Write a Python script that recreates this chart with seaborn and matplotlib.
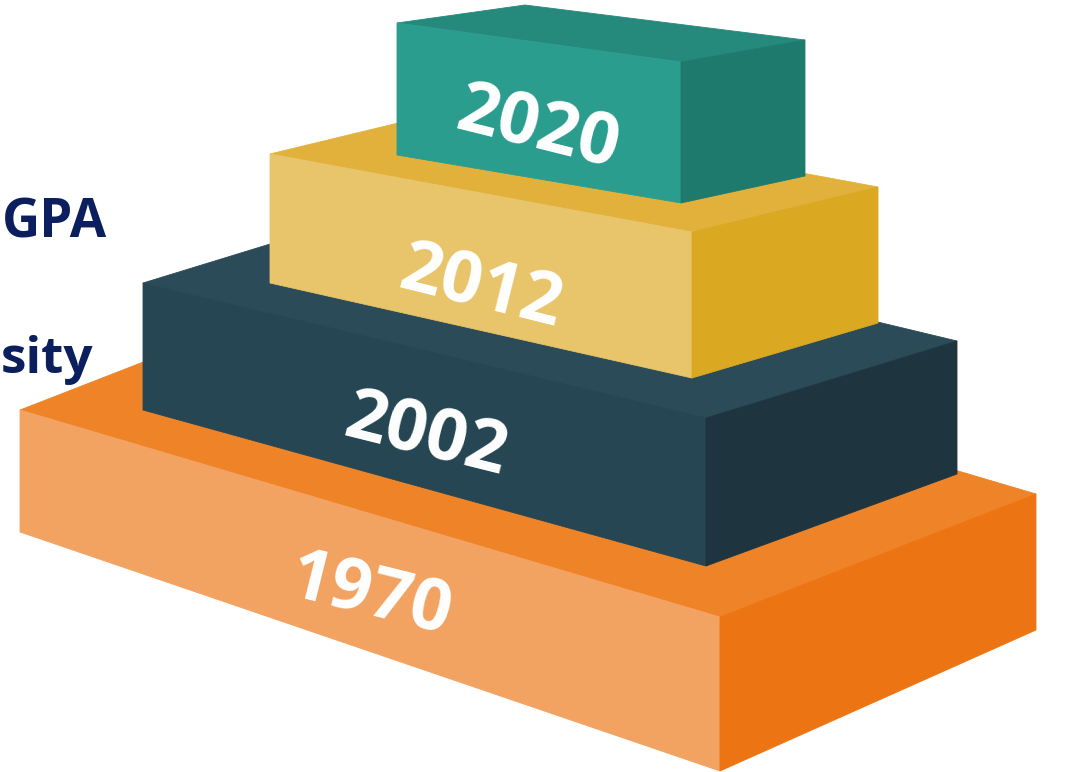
import matplotlib
matplotlib.use("Agg")
import matplotlib.pyplot as plt
import seaborn as sns

# labels on the stacked blocks (bottom to top)
years = ["1970", "2002", "2012", "2020"]
side_labels = ["GPA", "sity"]

# colours per block: front, top, right side
front_cols = ["#f2a261", "#264653", "#e8c46a", "#2a9d8f"]
top_cols = ["#ef8328", "#2a4b57", "#e1b13b", "#258a7c"]
side_cols = ["#ed7412", "#1e3540", "#dba822", "#1f7a6e"]

# block geometry (image pixels): front-left top/bottom, front-right top/bottom,
# back-right top/bottom, back-left top
boxes = [
    dict(flt=(20, 410), flb=(20, 532), frt=(720, 617), frb=(720, 771),
         brt=(1036, 494), brb=(1036, 630), blt=(336, 287)),
    dict(flt=(143, 283), flb=(143, 410), frt=(706, 418), frb=(706, 566),
         brt=(957, 341), brb=(957, 474), blt=(394, 206)),
    dict(flt=(270, 154), flb=(270, 283), frt=(692, 232), frb=(692, 378),
         brt=(878, 187), brb=(878, 323), blt=(456, 109)),
    dict(flt=(397, 23), flb=(397, 155), frt=(681, 62), frb=(681, 203),
         brt=(805, 40), brb=(805, 176), blt=(525, 5)),
]
label_pos = [(370, 596, -14), (426, 436, -14), (481, 288, -14), (538, 129, -14)]

sns.set_theme(style="white")
plt.rcParams['font.family'] = ['Open Sans', 'DejaVu Sans']

fig = plt.figure(figsize=(10.81, 7.72), dpi=100)
ax = fig.add_axes([0, 0, 1, 1])
ax.set_xlim(0, 1081)
ax.set_ylim(772, 0)
ax.axis('off')

for i, b in enumerate(boxes):
    top = [b['flt'], b['frt'], b['brt'], b['blt']]
    front = [b['flt'], b['frt'], b['frb'], b['flb']]
    side = [b['frt'], b['brt'], b['brb'], b['frb']]
    for poly, col in [(top, top_cols[i]), (front, front_cols[i]), (side, side_cols[i])]:
        xs, ys = zip(*poly)
        ax.fill(xs, ys, color=col, lw=0.6, ec=col, zorder=i * 3 + 1)
    x, y, rot = label_pos[i]
    ax.text(x, y, years[i], color='white', fontsize=52, fontweight='bold',
            rotation=rot, ha='center', va='center',
            zorder=i * 3 + 2, rotation_mode='anchor')

navy = "#0b1f5e"
ax.text(107, 224, side_labels[0], color=navy, fontsize=38, fontweight='bold',
        ha='right', va='center', zorder=20)
ax.text(93, 360, side_labels[1], color=navy, fontsize=37, fontweight='bold',
        ha='right', va='center', zorder=20)

fig.savefig("out.png", dpi=100)
